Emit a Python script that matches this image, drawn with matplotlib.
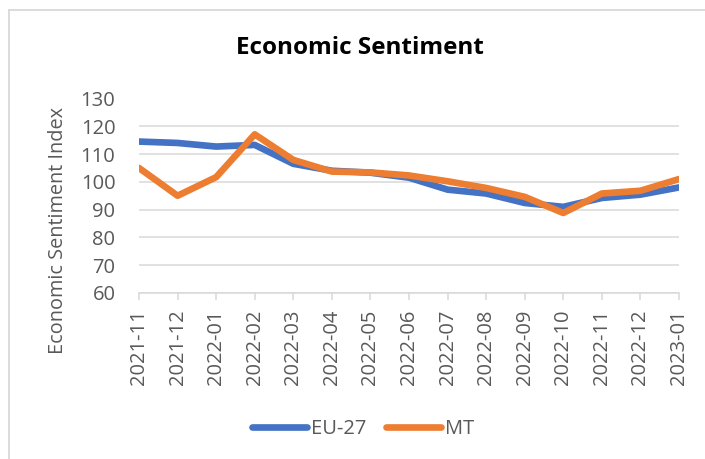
import matplotlib
matplotlib.use("Agg")
import matplotlib.pyplot as plt
from matplotlib.lines import Line2D

months = ["2021-11", "2021-12", "2022-01", "2022-02", "2022-03", "2022-04",
          "2022-05", "2022-06", "2022-07", "2022-08", "2022-09", "2022-10",
          "2022-11", "2022-12", "2023-01"]
eu27 = [114.5, 114.0, 112.7, 113.3, 106.5, 104.0, 103.3, 101.5,
        97.2, 95.8, 92.4, 91.0, 94.2, 95.4, 98.0]
mt = [105.0, 95.0, 101.7, 117.1, 107.9, 103.7, 103.4, 102.3,
      100.2, 97.8, 94.6, 88.8, 95.8, 96.8, 101.0]
yticks = [60, 70, 80, 90, 100, 110, 120, 130]

plt.rcParams["font.family"] = ["Open Sans", "DejaVu Sans"]
txt = "#595959"
grid = "#D9D9D9"

W, H = 705, 459
fig = plt.figure(figsize=(W / 100, H / 100), dpi=100)
ax = fig.add_axes([139 / W, 1 - 293 / H, (679 - 139) / W, (293 - 98.5) / H])

x = list(range(len(months)))
ax.plot(x, eu27, color="#4472C4", lw=4.8, solid_capstyle="round",
        solid_joinstyle="round", label="EU-27", zorder=3)
ax.plot(x, mt, color="#ED7D31", lw=4.8, solid_capstyle="round",
        solid_joinstyle="round", label="MT", zorder=4)

ax.set_xlim(0, len(months) - 1)
ax.set_ylim(60, 130)
ax.set_yticks(yticks)
ax.set_xticks(x)
ax.set_xticklabels(months, rotation=90)
ax.grid(axis="y", color=grid, lw=1.1)
ax.set_axisbelow(True)
for s in ["top", "right", "left"]:
    ax.spines[s].set_visible(False)
ax.spines["bottom"].set_color(grid)
ax.spines["bottom"].set_linewidth(1.1)
ax.tick_params(axis="x", length=5, width=1.1, color=grid, pad=7,
               labelsize=14.5, labelcolor=txt)
ax.tick_params(axis="y", length=0, pad=17, labelsize=14.5, labelcolor=txt)

fig.text(58 / W, 1 - 230 / H, "Economic Sentiment Index", rotation=90,
         ha="center", va="center", fontsize=14.3, color=txt)
fig.text(360 / W, 1 - 48 / H, "Economic Sentiment", ha="center",
         va="center", fontsize=17.5, fontweight="bold", color="black")

handles = [Line2D([], [], color="#4472C4", lw=4.8, solid_capstyle="round"),
           Line2D([], [], color="#ED7D31", lw=4.8, solid_capstyle="round")]
fig.legend(handles, ["EU-27", "MT"], loc="center", bbox_to_anchor=(363 / W, 1 - 429 / H),
           ncol=2, frameon=False, fontsize=14.5, labelcolor=txt,
           handlelength=2.7, handletextpad=0.2, columnspacing=1.0)

# chart border (left and top edges visible)
fig.add_artist(Line2D([9 / W, 9 / W], [0, 1 - 10 / H], color=grid, lw=1.3,
                      transform=fig.transFigure))
fig.add_artist(Line2D([9 / W, 1], [1 - 10 / H, 1 - 10 / H], color=grid, lw=1.3,
                      transform=fig.transFigure))

fig.savefig("out.png", dpi=100)
